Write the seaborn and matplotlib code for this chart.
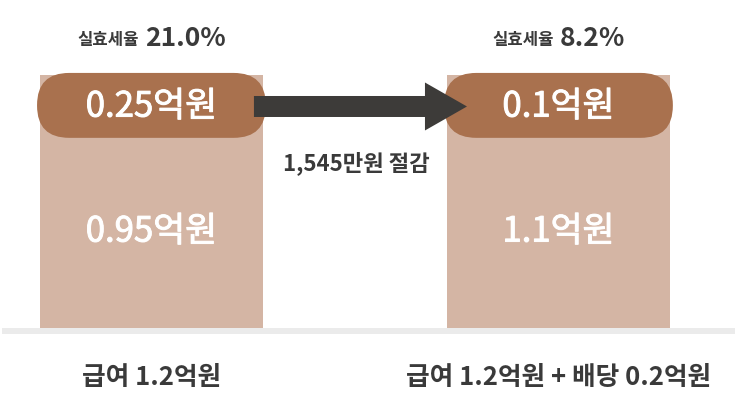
"""Tax comparison infographic: salary only vs salary + dividend."""

import matplotlib.pyplot as plt
import matplotlib.patheffects as pe
import pandas as pd
import seaborn as sns
from matplotlib.patches import FancyBboxPatch, FancyArrow

# ---------------------------------------------------------------------------
# Data
# ---------------------------------------------------------------------------
scenarios = ["급여 1.2억원", "급여 1.2억원 + 배당 0.2억원"]
net_income = [0.95, 1.1]          # 억원, light part
tax_amount = [0.25, 0.1]          # 억원, brown pill
net_labels = ["0.95억원", "1.1억원"]
tax_labels = ["0.25억원", "0.1억원"]
eff_rates = ["21.0%", "8.2%"]
saving_label = "1,545만원 절감"

LIGHT = "#d4b5a4"
BROWN = "#a9714e"
DARK = "#3a3a3a"
ARROW = "#3d3b39"
BASE = "#ebebeb"

sns.set_theme(style="white")
plt.rcParams["font.family"] = ["Noto Sans CJK KR", "DejaVu Sans"]

fig = plt.figure(figsize=(7.38, 4.11), dpi=100)
ax = fig.add_axes([0, 0, 1, 1])

df = pd.DataFrame({"scenario": scenarios,
                   "total": [n + t for n, t in zip(net_income, tax_amount)]})
sns.barplot(data=df, x="scenario", y="total", color=LIGHT, saturation=1,
            width=0.548, edgecolor="none", ax=ax, zorder=2)

ax.set_xlim(-0.372, 1.441)
ax.set_ylim(-0.394, 1.556)
ax.axis("off")

# px per data unit (for round corners and arrow proportions)
px_x, px_y = 407.0, 210.8

# grey baseline
ax.axhspan(-0.028, 0.0, xmin=2 / 738, xmax=735 / 738, color=BASE, zorder=1, lw=0)

thick = [pe.withStroke(linewidth=0.7, foreground="white")]

pill_w, pill_h = 0.562, 0.308
for i, (tot, tl, nl) in enumerate(zip(df.total, tax_labels, net_labels)):
    top = tot + 0.01
    pill = FancyBboxPatch((i - pill_w / 2, top - pill_h), pill_w, pill_h,
                          boxstyle="round,pad=0,rounding_size=0.079",
                          mutation_aspect=px_x / px_y,
                          fc=BROWN, ec="none", zorder=3)
    ax.add_patch(pill)
    ax.text(i, top - pill_h / 2 - 0.008, tl, ha="center", va="center",
            color="white", fontsize=25, zorder=5, path_effects=thick)
    ax.text(i, 0.455, nl, ha="center", va="center", color="white",
            fontsize=25, zorder=5, path_effects=thick)
    ax.text(i, -0.237, scenarios[i], ha="center", va="center", color=DARK,
            fontsize=18.5, fontweight="bold")

# effective tax rate headers (two sizes, centered as a group)
fig.canvas.draw()
renderer = fig.canvas.get_renderer()
for i, rate in enumerate(eff_rates):
    t1 = ax.text(i, 1.366, "실효세율", ha="left", va="center", color=DARK,
                 fontsize=12, fontweight="bold")
    t2 = ax.text(i, 1.372, rate, ha="left", va="center", color=DARK,
                 fontsize=19, fontweight="bold")
    w1 = t1.get_window_extent(renderer).width
    w2 = t2.get_window_extent(renderer).width
    gap = 6
    total_w = w1 + gap + w2
    x0 = i - total_w / 2 / px_x
    t1.set_x(x0)
    t2.set_x(x0 + (w1 + gap) / px_x)

# arrow between pills
x_start = (254 - 151.5) / px_x
x_end = (467 - 151.5) / px_x
y_arrow = (328 - 106.5) / px_y
ax.add_patch(FancyArrow(x_start, y_arrow, x_end - x_start, 0,
                        width=21 / px_y, head_width=48 / px_y,
                        head_length=(467 - 425) / px_x,
                        length_includes_head=True, fc=ARROW, ec="none",
                        zorder=4))

ax.text((356 - 151.5) / px_x, (328 - 163) / px_y, saving_label, ha="center",
        va="center", color=DARK, fontsize=16, fontweight="bold")

fig.savefig("out.png", dpi=100, facecolor="white")
